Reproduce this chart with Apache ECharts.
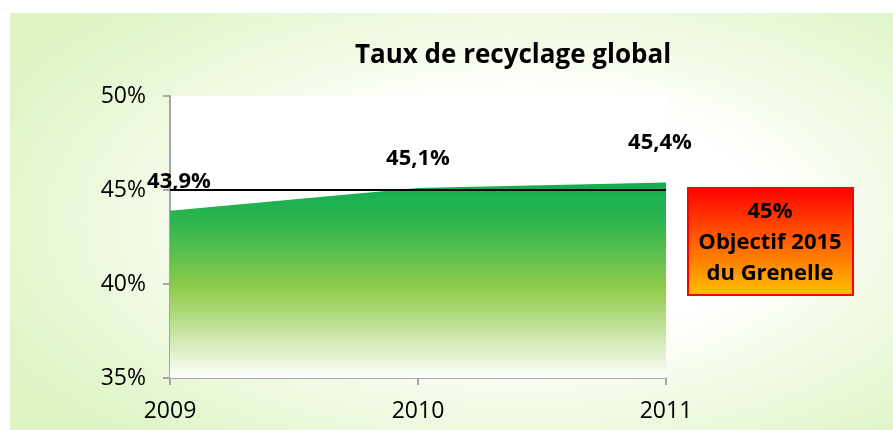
<!DOCTYPE html>
<html>
<head>
<meta charset="utf-8">
<script src="https://cdn.jsdelivr.net/npm/echarts@6/dist/echarts.min.js"></script>
<style>
  html, body { margin: 0; padding: 0; background: #fff; }
  .slide {
    position: absolute; left: 10px; top: 13px; width: 883px; height: 417px;
    background: radial-gradient(ellipse 68% 72% at 58% 50%, #ffffff 40%, #f1fae3 65%, #dcf3c2 100%);
  }
  #chart { position: absolute; left: 0; top: 0; width: 893px; height: 430px; }
</style>
</head>
<body>
<div class="slide"></div>
<div id="chart"></div>
<script>
const years = ['2009', '2010', '2011'];
const recyclingRate = [43.9, 45.1, 45.4];
const target = 45;
const targetText = ['45%', 'Objectif 2015', 'du Grenelle'];
// label nudges so they sit where the original put them
const labelOffsets = [[9, -12], [0, -12], [-6, -23]];

const FONT = "'Open Sans', 'Noto Sans', sans-serif";

const chart = echarts.init(document.getElementById('chart'));

const fmt = v => v.toFixed(1).replace('.', ',') + '%';

chart.setOption({
  animation: false,
  textStyle: { fontFamily: FONT, color: '#000' },
  title: {
    text: 'Taux de recyclage global',
    left: 508, top: 38,
    textAlign: 'center',
    textStyle: { fontFamily: FONT, fontSize: 26, fontWeight: 'bold', color: '#000' },
  },
  grid: {
    left: 170, right: 227, top: 96, bottom: 52,
    show: true, backgroundColor: '#fff', borderWidth: 0,
  },
  xAxis: {
    type: 'category',
    data: years,
    boundaryGap: false,
    axisLine: { lineStyle: { color: '#a6a6a6', width: 2 } },
    axisTick: { length: 7, lineStyle: { color: '#a6a6a6', width: 2 } },
    axisLabel: { fontSize: 23, color: '#000', margin: 22 },
  },
  yAxis: {
    type: 'value',
    min: 35, max: 50, interval: 5,
    axisLine: { show: true, lineStyle: { color: '#a6a6a6', width: 2 } },
    axisTick: { show: true, length: 7, lineStyle: { color: '#a6a6a6', width: 2 } },
    splitLine: { show: false },
    axisLabel: { fontSize: 23, color: '#000', margin: 24, formatter: v => v + '%' },
  },
  series: [{
    type: 'line',
    data: recyclingRate.map((v, i) => ({
      value: v,
      label: { offset: labelOffsets[i] },
    })),
    symbol: 'circle',
    symbolSize: 2,
    showSymbol: true,
    itemStyle: { color: 'rgba(0,0,0,0)', borderWidth: 0 },
    lineStyle: { width: 0 },
    areaStyle: {
      opacity: 1,
      color: new echarts.graphic.LinearGradient(0, 0, 0, 1, [
        { offset: 0, color: '#10ad50' },
        { offset: 0.2, color: '#2db550' },
        { offset: 0.55, color: '#92cc4c' },
        { offset: 1, color: '#ffffff' },
      ]),
    },
    label: {
      show: true, position: 'top',
      fontSize: 22, fontWeight: 'bold', color: '#000',
      formatter: p => fmt(p.value),
    },
    markLine: {
      silent: true,
      symbol: 'none',
      label: { show: false },
      lineStyle: { color: '#000', width: 2, type: 'solid' },
      data: [{ yAxis: target }],
    },
    z: 2,
  }],
  graphic: [{
    type: 'rect',
    x: 688, y: 188,
    shape: { width: 165, height: 107 },
    style: {
      fill: new echarts.graphic.LinearGradient(0, 0, 0, 1, [
        { offset: 0, color: '#ff0000' },
        { offset: 1, color: '#ffc000' },
      ]),
      stroke: '#ff0000', lineWidth: 2,
    },
  }, {
    type: 'text',
    x: 770, y: 196,
    z: 10,
    style: {
      text: targetText.join('\n'),
      textAlign: 'center',
      fontFamily: FONT, fontSize: 22, fontWeight: 'bold',
      lineHeight: 31, fill: '#000',
    },
  }],
});
</script>
</body>
</html>
